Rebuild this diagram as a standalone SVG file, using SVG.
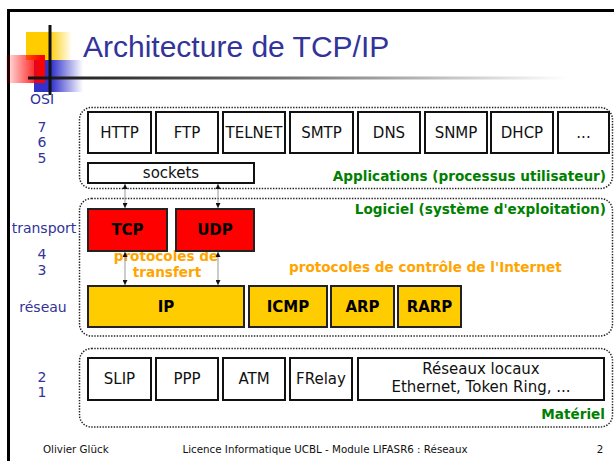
<svg xmlns="http://www.w3.org/2000/svg" width="614" height="461" viewBox="0 0 614 461">
<defs>
<linearGradient id="gY" x1="0" y1="0" x2="1" y2="0"><stop offset="0" stop-color="#ffcc00"/><stop offset="0.5" stop-color="#ffcc00"/><stop offset="1" stop-color="#ffcc00" stop-opacity="0"/></linearGradient>
<linearGradient id="gB" x1="0" y1="0" x2="1" y2="0"><stop offset="0" stop-color="#3333cc"/><stop offset="0.35" stop-color="#3333cc"/><stop offset="1" stop-color="#3333cc" stop-opacity="0"/></linearGradient>
<linearGradient id="gR" x1="0" y1="0" x2="1" y2="0"><stop offset="0" stop-color="#ff0000" stop-opacity="0.08"/><stop offset="0.9" stop-color="#ff0000"/><stop offset="1" stop-color="#ff0000"/></linearGradient>
<linearGradient id="gL" gradientUnits="userSpaceOnUse" x1="28" y1="0" x2="566" y2="0"><stop offset="0" stop-color="#111"/><stop offset="0.5" stop-color="#777"/><stop offset="1" stop-color="#fff"/></linearGradient>
<marker id="ah" viewBox="0 0 6 6" refX="6" refY="3" markerWidth="5" markerHeight="5" orient="auto-start-reverse" markerUnits="userSpaceOnUse"><path d="M0,0 L6,3 L0,6 z" fill="#111"/></marker>
</defs>
<style>
.frame{stroke:#000;stroke-width:3;fill:none}
.grp{fill:none;stroke:#222;stroke-width:1.5;stroke-dasharray:1.4 1.4}
.box{fill:#fff;stroke:#111;stroke-width:2}
.red{fill:#ff0000;stroke:#222;stroke-width:2}
.yel{fill:#ffcc00;stroke:#222;stroke-width:2}
.t{font-family:"DejaVu Sans",Verdana,sans-serif;font-size:15px;fill:#111;text-anchor:middle}
.tb{font-family:"DejaVu Sans",Verdana,sans-serif;font-size:15px;font-weight:bold;fill:#000;text-anchor:middle}
.lab{font-family:"DejaVu Sans",Verdana,sans-serif;font-size:13.6px;font-weight:bold}
.green{fill:#008000;text-anchor:end}
.orange{fill:#ffa500}
.osi{font-family:"DejaVu Sans",Verdana,sans-serif;font-size:14px;fill:#333399;text-anchor:middle}
.foot{font-family:"DejaVu Sans",Verdana,sans-serif;font-size:10.3px;fill:#111}
.conn{stroke:#999;stroke-width:1;fill:none;marker-start:url(#ah);marker-end:url(#ah)}
</style>
<rect width="614" height="461" fill="#fff"/>
<g id="frame">
<path class="frame" d="M8.5,461 V10.5 H614"/>
</g>
<g id="logo">
<rect x="26" y="32" width="46" height="28" fill="url(#gY)"/>
<rect x="34" y="60" width="49" height="32" fill="url(#gB)"/>
<rect x="6" y="55" width="39" height="28" fill="url(#gR)"/>
<rect x="28" y="76.5" width="538" height="3" fill="url(#gL)"/>
<rect x="48.5" y="25" width="3" height="70" fill="#111"/>
</g>
<text id="title" x="83" y="57" font-family="'Liberation Sans',Arial,sans-serif" font-size="30" fill="#333399">Architecture de TCP/IP</text>
<g id="osi-labels">
<text class="osi" x="42" y="104">OSI</text>
<text class="osi" x="42" y="132">7</text>
<text class="osi" x="42" y="147">6</text>
<text class="osi" x="42" y="163">5</text>
<text class="osi" x="44" y="233">transport</text>
<text class="osi" x="42" y="259">4</text>
<text class="osi" x="42" y="275">3</text>
<text class="osi" x="43" y="312">réseau</text>
<text class="osi" x="42" y="382">2</text>
<text class="osi" x="42" y="397">1</text>
</g>
<g id="applications">
<rect class="grp" x="79.5" y="107.5" width="533" height="81" rx="12"/>
<text class="lab green" x="606" y="181">Applications (processus utilisateur)</text>
</g>
<g id="logiciel">
<rect class="grp" x="79.5" y="198.5" width="533" height="137.5" rx="12"/>
<text class="lab green" x="606" y="214">Logiciel (système d'exploitation)</text>
<text class="lab orange" x="289" y="272">protocoles de contrôle de l'Internet</text>
<text class="lab orange" x="166" y="261" text-anchor="middle">protocoles de</text>
<text class="lab orange" x="167" y="277" text-anchor="middle">transfert</text>
</g>
<g id="materiel">
<rect class="grp" x="79.5" y="348.5" width="533" height="78.5" rx="12"/>
<text class="lab green" x="605" y="419" font-size="12">Matériel</text>
</g>
<g id="http"><rect class="box" x="88" y="112" width="63" height="41"/><text class="t" x="119.5" y="138">HTTP</text></g>
<g id="ftp"><rect class="box" x="156" y="112" width="62" height="41"/><text class="t" x="187" y="138">FTP</text></g>
<g id="telnet"><rect class="box" x="223" y="112" width="62" height="41"/><text class="t" x="254" y="138">TELNET</text></g>
<g id="smtp"><rect class="box" x="290" y="112" width="63" height="41"/><text class="t" x="321.5" y="138">SMTP</text></g>
<g id="dns"><rect class="box" x="358" y="112" width="62" height="41"/><text class="t" x="389" y="138">DNS</text></g>
<g id="snmp"><rect class="box" x="425" y="112" width="62" height="41"/><text class="t" x="456" y="138">SNMP</text></g>
<g id="dhcp"><rect class="box" x="491" y="112" width="62" height="41"/><text class="t" x="522" y="138">DHCP</text></g>
<g id="etc"><rect class="box" x="558" y="112" width="51" height="41"/><text class="t" x="583.5" y="138">...</text></g>
<g id="sockets"><rect class="box" x="88" y="163" width="166" height="20"/><text class="t" x="171" y="178" font-size="14.5">sockets</text></g>
<g id="tcp"><rect class="red" x="88" y="209" width="79" height="42"/><text class="tb" x="127.5" y="235">TCP</text></g>
<g id="udp"><rect class="red" x="176" y="209" width="78" height="42"/><text class="tb" x="215" y="235">UDP</text></g>
<g id="ip"><rect class="yel" x="88" y="286" width="156" height="41"/><text class="tb" x="166" y="312">IP</text></g>
<g id="icmp"><rect class="yel" x="249" y="286" width="78" height="41"/><text class="tb" x="288" y="312">ICMP</text></g>
<g id="arp"><rect class="yel" x="331" y="286" width="63" height="41"/><text class="tb" x="362.5" y="312">ARP</text></g>
<g id="rarp"><rect class="yel" x="398" y="286" width="63" height="41"/><text class="tb" x="429.5" y="312">RARP</text></g>
<g id="slip"><rect class="box" x="88" y="358" width="63" height="42"/><text class="t" x="119.5" y="384">SLIP</text></g>
<g id="ppp"><rect class="box" x="156" y="358" width="62" height="42"/><text class="t" x="187" y="384">PPP</text></g>
<g id="atm"><rect class="box" x="223" y="358" width="62" height="42"/><text class="t" x="254" y="384">ATM</text></g>
<g id="frelay"><rect class="box" x="290" y="358" width="62" height="42"/><text class="t" x="321" y="384">FRelay</text></g>
<g id="lan"><rect class="box" x="358" y="358" width="246" height="42"/><text class="t" x="481" y="374" font-size="14.5">Réseaux locaux</text><text class="t" x="481" y="392" font-size="14.5">Ethernet, Token Ring, ...</text></g>
<g id="connectors">
<line class="conn" x1="125" y1="184" x2="125" y2="208"/>
<line class="conn" x1="218" y1="184" x2="218" y2="208"/>
<line class="conn" x1="125" y1="252" x2="125" y2="285"/>
<line class="conn" x1="218" y1="252" x2="218" y2="285"/>
</g>
<g id="footer">
<text class="foot" x="43" y="453">Olivier Glück</text>
<text class="foot" x="325" y="453" text-anchor="middle">Licence Informatique UCBL - Module LIFASR6 : Réseaux</text>
<text class="foot" x="600" y="453" text-anchor="middle">2</text>
</g>
</svg>
